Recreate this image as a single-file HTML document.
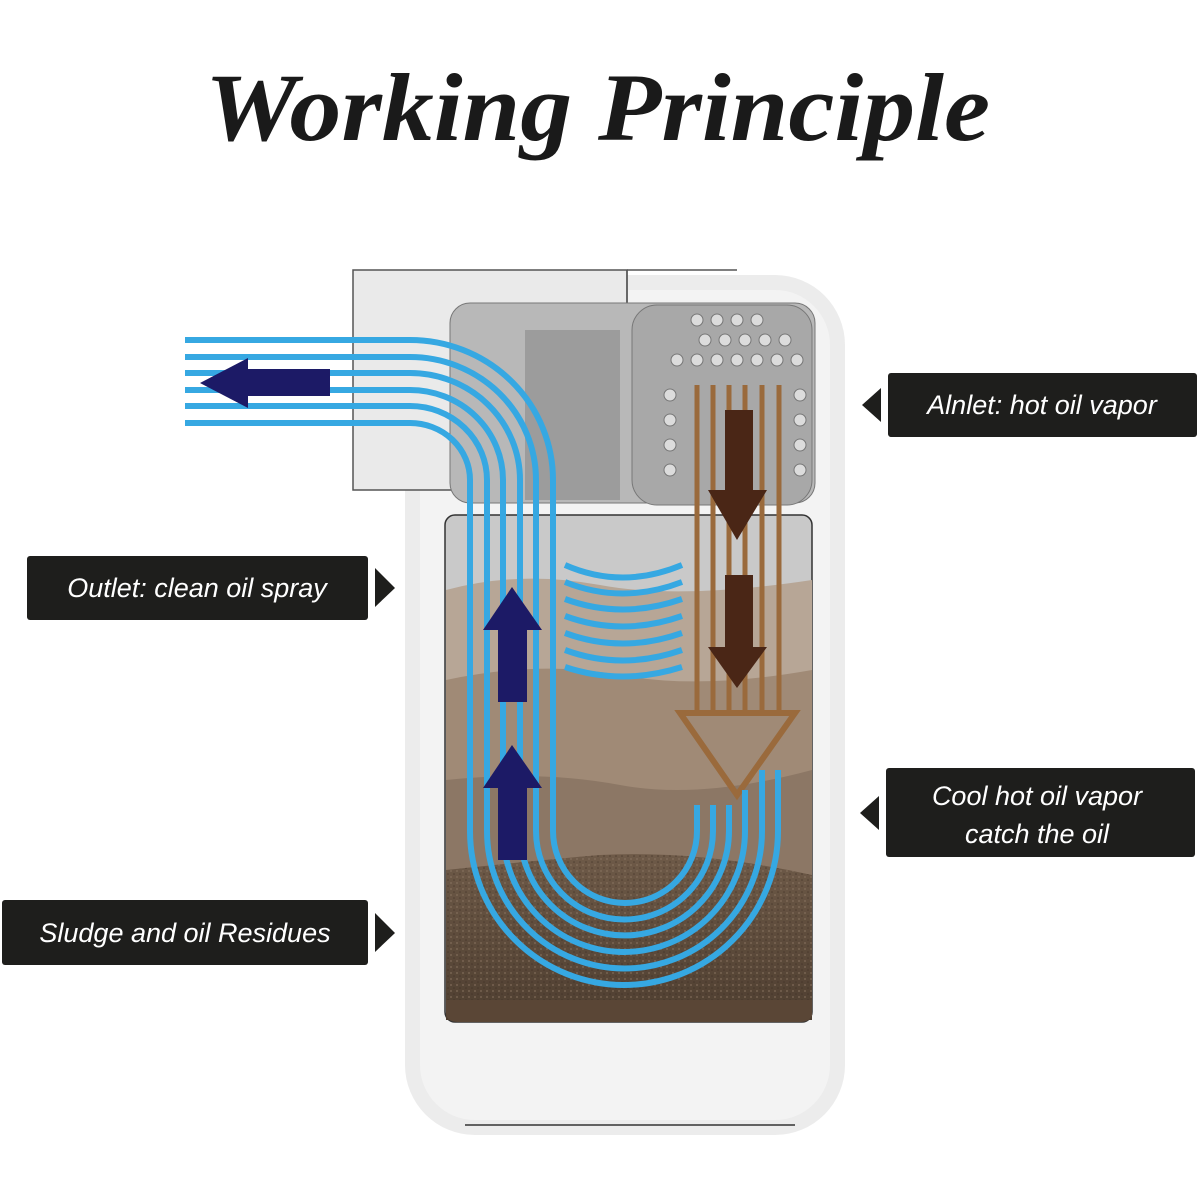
<!DOCTYPE html>
<html><head><meta charset="utf-8"><style>
html,body{margin:0;padding:0;background:#fff;width:1200px;height:1200px;overflow:hidden}
</style></head><body>
<svg width="1200" height="1200" viewBox="0 0 1200 1200" xmlns="http://www.w3.org/2000/svg">
<defs>
<linearGradient id="sl" x1="0" y1="0" x2="0" y2="1"><stop offset="0" stop-color="#6e5a48"/><stop offset="1" stop-color="#4e3e30"/></linearGradient>
<pattern id="dots" width="6" height="6" patternUnits="userSpaceOnUse"><circle cx="1" cy="1" r="1" fill="#8a7562" opacity="0.6"/><circle cx="4" cy="4" r="0.8" fill="#3a2c22" opacity="0.6"/></pattern>
</defs>
<text x="205" y="140" font-family="Liberation Serif, serif" font-weight="bold" font-style="italic" font-size="96" textLength="785" lengthAdjust="spacingAndGlyphs" fill="#1a1a1a">Working Principle</text>

<rect x="405" y="275" width="440" height="860" rx="70" fill="#ececec"/>
<rect x="420" y="290" width="410" height="830" rx="55" fill="#f3f3f3"/>
<rect x="353" y="270" width="274" height="220" fill="#eaeaea" stroke="#555" stroke-width="1.5"/>
<line x1="627" y1="270" x2="737" y2="270" stroke="#555" stroke-width="1.5"/>
<line x1="627" y1="270" x2="627" y2="490" stroke="#555" stroke-width="1.5"/>
<rect x="450" y="303" width="365" height="200" rx="20" fill="#b8b8b8" stroke="#777"/>
<rect x="525" y="330" width="95" height="170" fill="#9c9c9c"/>
<rect x="632" y="305" width="180" height="200" rx="25" fill="#a8a8a8" stroke="#777"/>
<g fill="#dcdcdc" stroke="#777" stroke-width="1">
<circle cx="697" cy="320" r="6"/><circle cx="717" cy="320" r="6"/><circle cx="737" cy="320" r="6"/><circle cx="757" cy="320" r="6"/>
<circle cx="705" cy="340" r="6"/><circle cx="725" cy="340" r="6"/><circle cx="745" cy="340" r="6"/><circle cx="765" cy="340" r="6"/><circle cx="785" cy="340" r="6"/>
<circle cx="677" cy="360" r="6"/><circle cx="697" cy="360" r="6"/><circle cx="717" cy="360" r="6"/><circle cx="737" cy="360" r="6"/><circle cx="757" cy="360" r="6"/><circle cx="777" cy="360" r="6"/><circle cx="797" cy="360" r="6"/>
<circle cx="670" cy="395" r="6"/><circle cx="800" cy="395" r="6"/><circle cx="670" cy="420" r="6"/><circle cx="800" cy="420" r="6"/>
<circle cx="670" cy="445" r="6"/><circle cx="800" cy="445" r="6"/><circle cx="670" cy="470" r="6"/><circle cx="800" cy="470" r="6"/>
</g>
<rect x="445" y="515" width="367" height="507" rx="10" fill="#c9c9c9" stroke="#333" stroke-width="1.5"/>
<path d="M446 590 Q520 570 600 585 T812 580 V1020 H446Z" fill="#b7a696"/>
<path d="M446 680 Q540 660 620 675 T812 670 V1020 H446Z" fill="#a08a76"/>
<path d="M446 780 Q540 770 620 785 T812 770 V1020 H446Z" fill="#8c7765"/>
<path d="M446 870 Q540 860 600 855 Q700 850 812 875 V1020 H446Z" fill="url(#sl)"/>
<path d="M446 870 Q540 860 600 855 Q700 850 812 875 V1020 H446Z" fill="url(#dots)"/>
<path d="M446 1000 H812 V1012 Q812 1022 800 1022 H458 Q446 1022 446 1012Z" fill="#5a4636"/>
<line x1="465" y1="1125" x2="795" y2="1125" stroke="#333" stroke-width="1.5"/>

<g stroke="#9a6a3c" stroke-width="5">
<line x1="697" y1="385" x2="697" y2="715"/><line x1="713" y1="385" x2="713" y2="715"/><line x1="729" y1="385" x2="729" y2="715"/><line x1="745" y1="385" x2="745" y2="715"/><line x1="762" y1="385" x2="762" y2="715"/><line x1="779" y1="385" x2="779" y2="715"/>
</g>
<polygon points="680,713 795,713 737,795" fill="none" stroke="#9a6a3c" stroke-width="6"/>
<g fill="#4a2616">
<rect x="725" y="410" width="28" height="80"/><polygon points="708,490 767,490 737,540"/>
<rect x="725" y="575" width="28" height="72"/><polygon points="708,647 767,647 737,688"/>
</g>

<g fill="none" stroke="#36a8e2" stroke-width="6">
<path d="M185 340 H410 A143 140 0 0 1 553 480 V831 A72 72 0 0 0 697 831 V805"/>
<path d="M185 357 H410 A126 123 0 0 1 536 480 V831 A88.5 88.5 0 0 0 713 831 V805"/>
<path d="M185 373 H410 A110 107 0 0 1 520 480 V831 A104.5 104.5 0 0 0 729 831 V805"/>
<path d="M185 390 H410 A93 90 0 0 1 503 480 V831 A121 121 0 0 0 745 831 V790"/>
<path d="M185 406 H410 A77 74 0 0 1 487 480 V831 A137.5 137.5 0 0 0 762 831 V770"/>
<path d="M185 423 H410 A60 57 0 0 1 470 480 V831 A154 154 0 0 0 778 831 V770"/>
<path d="M565 565 Q622 590 682 565"/>
<path d="M565 582 Q622 605 682 582"/>
<path d="M565 599 Q622 620 682 599"/>
<path d="M565 616 Q622 637 682 616"/>
<path d="M565 633 Q622 654 682 633"/>
<path d="M565 650 Q622 671 682 650"/>
<path d="M565 667 Q622 686 682 667"/>
</g>
<g fill="#1c1a66">
<rect x="245" y="369" width="85" height="27"/><polygon points="200,383 248,358 248,408"/>
<polygon points="512,587 483,630 542,630"/><rect x="498" y="630" width="29" height="72"/>
<polygon points="512,745 483,788 542,788"/><rect x="498" y="788" width="29" height="72"/>
</g>

<g font-family="Liberation Sans, sans-serif" font-style="italic" font-size="27" fill="#fff">
<rect x="888" y="373" width="309" height="64" rx="3" fill="#1e1e1c"/>
<polygon points="862,405 881,388 881,422" fill="#1e1e1c"/>
<text x="1042" y="414" text-anchor="middle">Alnlet: hot oil vapor</text>
<rect x="27" y="556" width="341" height="64" rx="3" fill="#1e1e1c"/>
<polygon points="375,568 375,607 395,588" fill="#1e1e1c"/>
<text x="197" y="597" text-anchor="middle">Outlet: clean oil spray</text>
<rect x="886" y="768" width="309" height="89" rx="3" fill="#1e1e1c"/>
<polygon points="860,813 879,796 879,830" fill="#1e1e1c"/>
<text x="1037" y="805" text-anchor="middle">Cool hot oil vapor</text>
<text x="1037" y="843" text-anchor="middle">catch the oil</text>
<rect x="2" y="900" width="366" height="65" rx="3" fill="#1e1e1c"/>
<polygon points="375,913 375,952 395,933" fill="#1e1e1c"/>
<text x="185" y="942" text-anchor="middle">Sludge and oil Residues</text>
</g>
</svg>
</body></html>
